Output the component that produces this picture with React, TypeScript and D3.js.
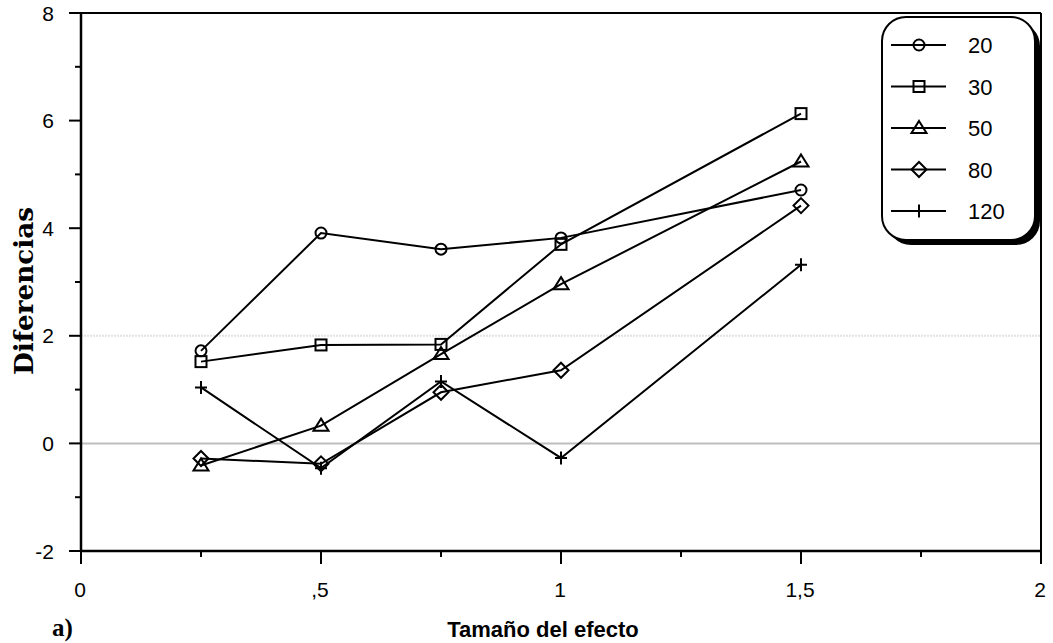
import * as d3 from "d3";

const effectSizes = [0.25, 0.5, 0.75, 1, 1.5];
const seriesNames = ["20", "30", "50", "80", "120"];
const markerTypes = ["circle", "square", "triangle", "diamond", "plus"];
const s20 = [1.72, 3.91, 3.61, 3.82, 4.71];
const s30 = [1.52, 1.83, 1.84, 3.7, 6.13];
const s50 = [-0.41, 0.33, 1.66, 2.96, 5.24];
const s80 = [-0.28, -0.38, 0.95, 1.36, 4.42];
const s120 = [1.04, -0.46, 1.15, -0.27, 3.32];
const seriesValues = [s20, s30, s50, s80, s120];

const xTickValues = [0, 0.5, 1, 1.5, 2];
const xTickLabels = ["0", ",5", "1", "1,5", "2"];
const yTickValues = [-2, 0, 2, 4, 6, 8];

const W = 1053;
const H = 643;
const margin = { top: 13, right: 12, bottom: 92, left: 81 };

const Marker = ({ type, x, y }: { type: string; x: number; y: number }) => {
  const st = { fill: "none", stroke: "#000", strokeWidth: 2 };
  if (type === "circle") return <circle cx={x} cy={y} r={5.5} {...st} />;
  if (type === "square") return <rect x={x - 5.5} y={y - 5.5} width={11} height={11} {...st} />;
  if (type === "triangle")
    return <path d={`M${x},${y - 7}L${x + 7.5},${y + 5}L${x - 7.5},${y + 5}Z`} {...st} />;
  if (type === "diamond")
    return <path d={`M${x},${y - 7.5}L${x + 7.5},${y}L${x},${y + 7.5}L${x - 7.5},${y}Z`} {...st} />;
  return <path d={`M${x - 6},${y}H${x + 6}M${x},${y - 6.5}V${y + 6.5}`} {...st} />;
};

export default function App() {
  const x = d3.scaleLinear().domain([0, 2]).range([margin.left, W - margin.right]);
  const y = d3.scaleLinear().domain([-2, 8]).range([H - margin.bottom, margin.top]);
  const line = d3
    .line<number>()
    .x((_, i) => x(effectSizes[i]))
    .y((d) => y(d));

  const xMinor = d3.range(0, 2.01, 0.25).filter((v) => !xTickValues.includes(v));
  const yMinor = d3.range(-2, 8.01, 1).filter((v) => !yTickValues.includes(v));
  const x0 = x(0);
  const yb = y(-2);

  const legX = 882;
  const legY = 17;
  const legW = 153;
  const legH = 223;

  return (
    <svg width={W} height={H} style={{ position: "absolute", left: 0, top: 0 }} fontFamily="Arial, 'Liberation Sans', sans-serif">
      {/* reference lines */}
      <line x1={x0} x2={x(2)} y1={y(2)} y2={y(2)} stroke="#e2e2e2" strokeWidth={2} strokeDasharray="2,1" />
      <line x1={x0} x2={x(2)} y1={y(0)} y2={y(0)} stroke="#bdbdbd" strokeWidth={2} />

      {/* frame */}
      <line x1={x0} x2={x(2)} y1={y(8)} y2={y(8)} stroke="#000" strokeWidth={2} />
      <line x1={x(2)} x2={x(2)} y1={y(8)} y2={yb} stroke="#000" strokeWidth={2} />
      <line x1={x0} x2={x0} y1={y(8)} y2={yb} stroke="#000" strokeWidth={2.5} />
      <line x1={x0} x2={x(2)} y1={yb} y2={yb} stroke="#000" strokeWidth={2.5} />

      {yTickValues.map((v) => (
        <g key={"yt" + v}>
          <line x1={x0 - 12} x2={x0} y1={y(v)} y2={y(v)} stroke="#000" strokeWidth={2} />
          <text x={54} y={y(v) + 7.5} fontSize={21} textAnchor="end">{v}</text>
        </g>
      ))}
      {yMinor.map((v) => (
        <line key={"ym" + v} x1={x0 - 6} x2={x0} y1={y(v)} y2={y(v)} stroke="#000" strokeWidth={2} />
      ))}
      {xTickValues.map((v, i) => (
        <g key={"xt" + v}>
          <line x1={x(v)} x2={x(v)} y1={yb} y2={yb + 13} stroke="#000" strokeWidth={2} />
          <text x={x(v) - 1} y={597} fontSize={21} textAnchor="middle">{xTickLabels[i]}</text>
        </g>
      ))}
      {xMinor.map((v) => (
        <line key={"xm" + v} x1={x(v)} x2={x(v)} y1={yb} y2={yb + 6} stroke="#000" strokeWidth={2} />
      ))}

      {/* series */}
      {seriesValues.map((vals, si) => (
        <g key={"s" + si}>
          <path d={line(vals) || ""} fill="none" stroke="#000" strokeWidth={2} />
          {vals.map((v, i) => (
            <Marker key={i} type={markerTypes[si]} x={x(effectSizes[i])} y={y(v)} />
          ))}
        </g>
      ))}

      {/* legend */}
      <rect x={legX + 5} y={legY + 5} width={legW} height={legH} rx={24} fill="#000" />
      <rect x={legX} y={legY} width={legW} height={legH} rx={24} fill="#fff" stroke="#000" strokeWidth={2} />
      {seriesNames.map((n, i) => {
        const cy = 45 + i * 41.5;
        return (
          <g key={"l" + n}>
            <line x1={891} x2={946} y1={cy} y2={cy} stroke="#000" strokeWidth={2} />
            <Marker type={markerTypes[i]} x={919} y={cy} />
            <text x={968} y={cy + 8} fontSize={22}>{n}</text>
          </g>
        );
      })}

      {/* axis titles */}
      <text
        transform={`translate(33,291) rotate(-90)`}
        textAnchor="middle"
        fontFamily="'DejaVu Serif Condensed', 'DejaVu Serif', serif"
        fontWeight="bold"
        fontSize={26}
        textLength={168}
        lengthAdjust="spacingAndGlyphs"
      >
        Diferencias
      </text>
      <text x={543} y={637} fontSize={22} fontWeight="bold" textAnchor="middle">Tamaño del efecto</text>
      <text x={52} y={636} fontSize={25} fontWeight="bold" fontFamily="'Liberation Serif', 'Times New Roman', serif">a)</text>
    </svg>
  );
}
